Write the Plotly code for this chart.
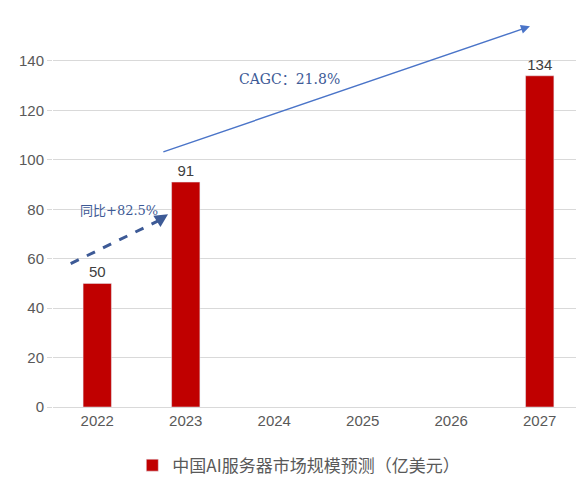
import plotly.graph_objects as go

years = ["2022", "2023", "2024", "2025", "2026", "2027"]
market_size = [50, 91, None, None, None, 134]
series_name = "中国AI服务器市场规模预测（亿美元）"
y_ticks = [0, 20, 40, 60, 80, 100, 120, 140]

bar_color = "#C00000"
arrow_dark = "#3D5A96"
arrow_light = "#4A74C8"
text_font = "Liberation Sans, Noto Sans CJK SC, sans-serif"
serif_font = "DejaVu Serif, Noto Sans CJK SC, serif"

fig = go.Figure()
fig.add_trace(go.Bar(
    x=list(range(len(years))),
    y=market_size,
    name=series_name,
    marker_color=bar_color,
    width=0.32,
    text=[str(v) if v is not None else "" for v in market_size],
    textposition="outside",
    textfont=dict(size=15, color="#404040", family=text_font),
    cliponaxis=False,
    showlegend=True,
))

# year-on-year growth arrow (dashed)
fig.add_shape(type="line", xref="x", yref="y",
              x0=-0.30, y0=58, x1=0.70, y1=75.5,
              line=dict(color=arrow_dark, width=3, dash="dash"))
fig.add_annotation(x=0.80, y=78, ax=0.66, ay=74.8, xref="x", yref="y",
                   axref="x", ayref="y", text="", showarrow=True,
                   arrowhead=2, arrowsize=1.1, arrowwidth=2.4, arrowcolor=arrow_dark)
fig.add_annotation(x=0.25, y=79.5, xref="x", yref="y", text="同比+82.5%",
                   showarrow=False, font=dict(size=13, color=arrow_dark, family=serif_font))

# compound growth arrow
fig.add_annotation(x=4.89, y=154, ax=0.73, ay=103, xref="x", yref="y",
                   axref="x", ayref="y", text="", showarrow=True,
                   arrowhead=2, arrowsize=1.3, arrowwidth=1.4, arrowcolor=arrow_light)
fig.add_annotation(x=2.17, y=132.8, xref="x", yref="y", text="CAGC：21.8%",
                   showarrow=False, font=dict(size=14, color=arrow_dark, family=serif_font))

fig.update_layout(
    width=576, height=480,
    margin=dict(l=53, r=0, t=14, b=73, autoexpand=False),
    plot_bgcolor="white", paper_bgcolor="white",
    font=dict(family=text_font, color="#595959", size=15),
    bargap=0.68,
    legend=dict(orientation="h", x=0.47, xanchor="center",
                yref="container", y=0.03, yanchor="middle",
                font=dict(size=17, color="#595959", family="Noto Sans CJK SC, sans-serif"),
                itemwidth=30),
    xaxis=dict(
        tickmode="array", tickvals=list(range(len(years))), ticktext=years,
        range=[-0.5, 5.41], showgrid=False, zeroline=False, showline=True,
        linecolor="#D9D9D9", ticks="", tickfont=dict(size=15, color="#595959"),
    ),
    yaxis=dict(
        range=[0, 159], tickvals=y_ticks, showgrid=True, gridcolor="#D9D9D9",
        gridwidth=1, zeroline=False, showline=False, ticks="outside",
        ticklen=5, tickcolor="#D9D9D9", tickfont=dict(size=15, color="#595959"),
    ),
)

fig.write_html("out.html")
